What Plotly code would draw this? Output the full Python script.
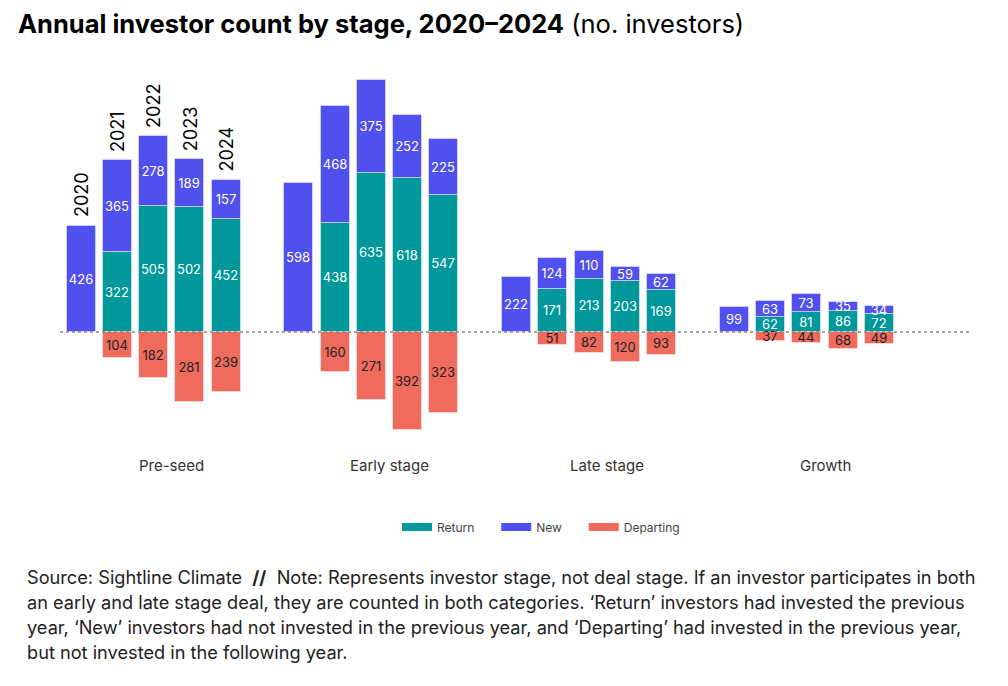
import plotly.graph_objects as go

stages = ["Pre-seed", "Early stage", "Late stage", "Growth"]
years = ["2020", "2021", "2022", "2023", "2024"]

# values per stage, per year (None = not applicable)
return_vals = {
    "Pre-seed":    [None, 322, 505, 502, 452],
    "Early stage": [None, 438, 635, 618, 547],
    "Late stage":  [None, 171, 213, 203, 169],
    "Growth":      [None, 62, 81, 86, 72],
}
new_vals = {
    "Pre-seed":    [426, 365, 278, 189, 157],
    "Early stage": [598, 468, 375, 252, 225],
    "Late stage":  [222, 124, 110, 59, 62],
    "Growth":      [99, 63, 73, 35, 34],
}
departing_vals = {
    "Pre-seed":    [None, 104, 182, 281, 239],
    "Early stage": [None, 160, 271, 392, 323],
    "Late stage":  [None, 51, 82, 120, 93],
    "Growth":      [None, 37, 44, 68, 49],
}

C_RETURN = "#00989A"
C_NEW = "#5050EE"
C_DEP = "#EE6B5E"
FONT = "Inter"

GROUP_STEP = 6
xs, r, n, d = [], [], [], []
for g, s in enumerate(stages):
    for i, _ in enumerate(years):
        xs.append(g * GROUP_STEP + i)
        r.append(return_vals[s][i])
        n.append(new_vals[s][i])
        d.append(departing_vals[s][i])

def txt(vals):
    return ["" if v is None else str(v) for v in vals]

fig = go.Figure()
common = dict(width=0.8, textposition="inside", insidetextanchor="middle",
              textangle=0, constraintext="none", hoverinfo="skip", showlegend=False)
outline = dict(color="rgba(255,255,255,0.45)", width=1)
fig.add_trace(go.Bar(name="Return", x=xs, y=r, text=txt(r),
                     marker=dict(color=C_RETURN, line=outline),
                     insidetextfont=dict(color="white", size=13, family=FONT), **common))
fig.add_trace(go.Bar(name="New", x=xs, y=n, text=txt(n),
                     marker=dict(color=C_NEW, line=outline),
                     insidetextfont=dict(color="white", size=13, family=FONT), **common))
fig.add_trace(go.Bar(name="Departing", x=xs, y=[None if v is None else -v for v in d], text=txt(d),
                     marker=dict(color=C_DEP, line=outline),
                     insidetextfont=dict(color="#222222", size=13, family=FONT), **common))

# legend entries (wide rectangular swatches)
PAD = "\u00a0" * 5
for name, label, col in [("Return", "Return" + PAD, C_RETURN), ("New", "New" + PAD, C_NEW),
                         ("Departing", "Departing", C_DEP)]:
    fig.add_trace(go.Scatter(name=label, x=[None], y=[None], mode="lines",
                             line=dict(color=col, width=8), hoverinfo="skip"))

# zero line
fig.add_shape(type="line", xref="paper", x0=0, x1=1, yref="y", y0=0, y1=0,
              line=dict(color="#888888", width=1.5, dash="dot"), layer="above")

# year labels above Pre-seed bars
for i, yr in enumerate(years):
    tot = (return_vals["Pre-seed"][i] or 0) + new_vals["Pre-seed"][i]
    fig.add_annotation(x=i, y=tot, text=yr, textangle=-90, showarrow=False,
                       xanchor="center", yanchor="bottom", yshift=6,
                       font=dict(size=18, color="#000000", family=FONT))

# stage labels
for g, s in enumerate(stages):
    fig.add_annotation(x=g * GROUP_STEP + 2.5, y=-23 / 380, yref="paper", text=s, showarrow=False,
                       xanchor="center", yanchor="middle",
                       font=dict(size=15, color="#333333", family=FONT))

# source note
note_lines = [
    "Source: Sightline Climate  <b>//</b>  Note: Represents investor stage, not deal stage. If an investor participates in both",
    "an early and late stage deal, they are counted in both categories. ‘Return’ investors had invested the previous",
    "year, ‘New’ investors had not invested in the previous year, and ‘Departing’ had invested in the previous year,",
    "but not invested in the following year.",
]
for k, line in enumerate(note_lines):
    fig.add_annotation(xref="paper", yref="paper", x=(25 - 60) / 912, y=(442 - 577 - 25 * k) / 380,
                       text=line, showarrow=False, xanchor="left", yanchor="middle",
                       font=dict(size=18.2, color="#222222", family=FONT))

fig.update_layout(
    width=1000, height=678,
    margin=dict(l=52, r=36, t=54, b=244),
    barmode="relative", bargap=0,
    paper_bgcolor="white", plot_bgcolor="white",
    title=dict(text="<b>Annual investor count by stage, 2020–2024</b> (no. investors)",
               x=10 / 1000, xref="container", xanchor="left",
               y=1 - 16 / 678, yref="container", yanchor="middle",
               font=dict(size=25.5, color="#000000", family=FONT)),
    xaxis=dict(range=[-0.58, 24.55], visible=False, fixedrange=True),
    yaxis=dict(range=[-440, 1080], visible=False, fixedrange=True),
    legend=dict(orientation="h", x=(397 - 60) / 912, xanchor="left", y=(442 - 527) / 380, yanchor="middle",
                font=dict(size=12, color="#444444", family=FONT), traceorder="normal"),
    uniformtext=dict(minsize=13, mode="show"),
    showlegend=True,
)

fig.write_html("out.html")
